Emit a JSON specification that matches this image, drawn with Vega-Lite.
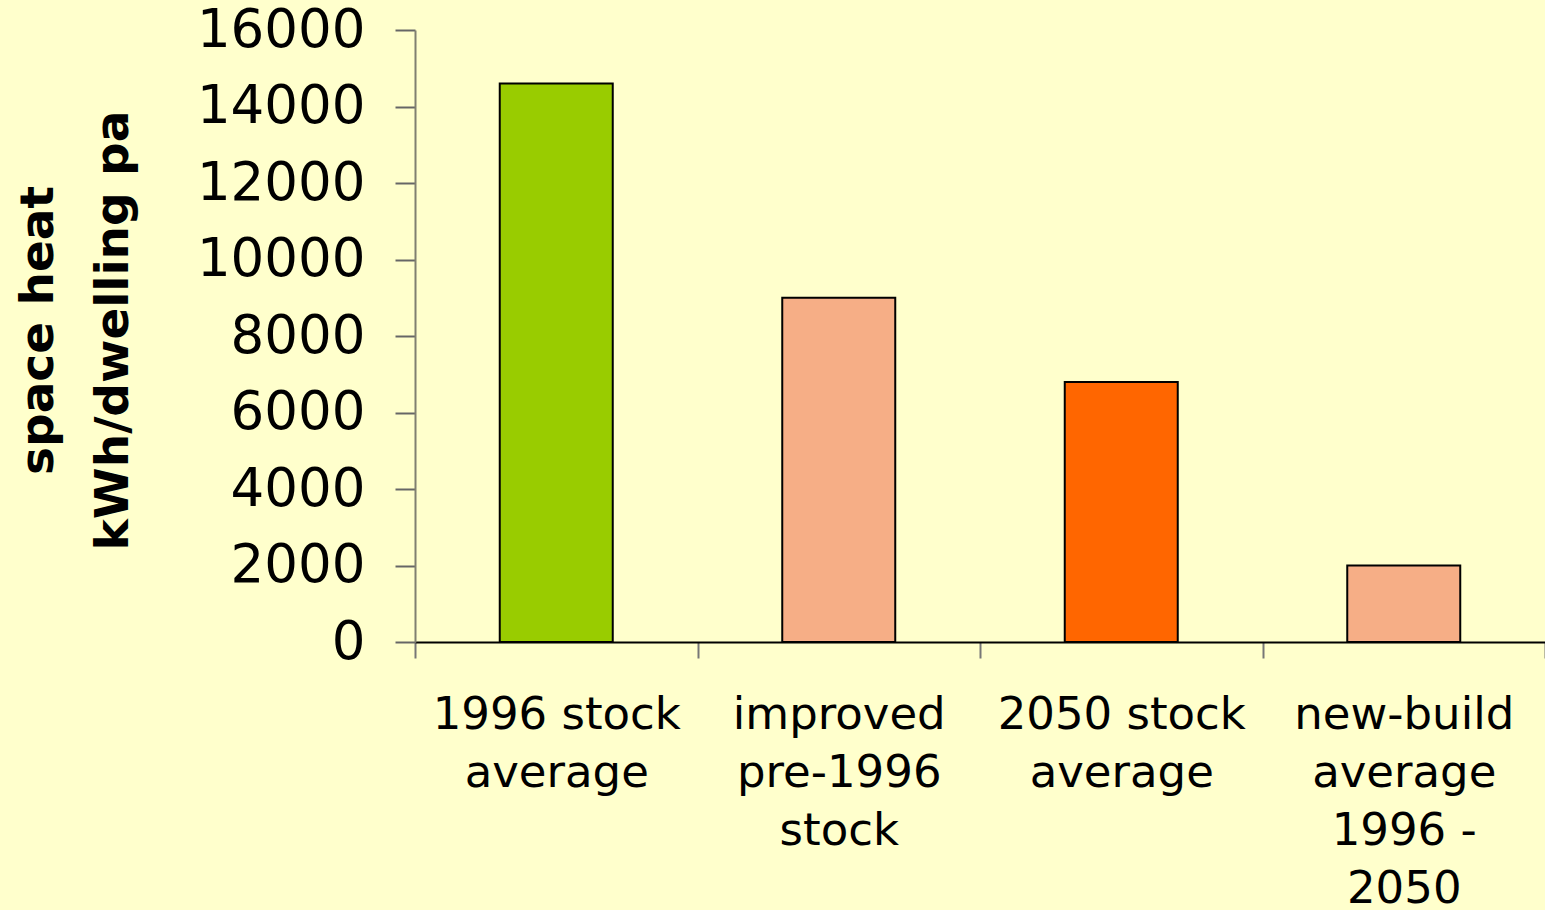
{
  "$schema": "https://vega.github.io/schema/vega-lite/v6.json",
  "width": 1130,
  "height": 612,
  "autosize": {"type": "none"},
  "padding": {"left": 415, "top": 30, "right": 0, "bottom": 268},
  "background": "#FFFFCC",
  "config": {"view": {"stroke": null}, "font": "DejaVu Sans"},
  "data": {
    "values": [
      {"category": "1996 stock|average", "value": 14600, "kind": "green"},
      {"category": "improved|pre-1996|stock", "value": 9000, "kind": "hatch"},
      {"category": "2050 stock|average", "value": 6800, "kind": "orange"},
      {"category": "new-build|average|1996 -|2050", "value": 2000, "kind": "hatch"}
    ]
  },
  "mark": {"type": "bar", "stroke": "#000000", "strokeWidth": 2, "width": {"band": 0.4}},
  "encoding": {
    "x": {
      "field": "category",
      "type": "nominal",
      "sort": null,
      "scale": {"paddingInner": 0, "paddingOuter": 0},
      "axis": {
        "title": null,
        "labelAngle": 0,
        "labelExpr": "split(datum.label, '|')",
        "labelFont": "DejaVu Sans",
        "labelFontSize": 45,
        "labelColor": "#000000",
        "labelLineHeight": 58,
        "labelPadding": 34,
        "labelBaseline": "top",
        "labelLimit": 0,
        "tickBand": "extent",
        "tickSize": 16,
        "tickColor": "#777777",
        "tickWidth": 2,
        "domainColor": "#000000",
        "domainWidth": 2
      }
    },
    "y": {
      "field": "value",
      "type": "quantitative",
      "scale": {"domain": [0, 16000], "nice": false},
      "axis": {
        "values": [0, 2000, 4000, 6000, 8000, 10000, 12000, 14000, 16000],
        "format": "d",
        "grid": false,
        "labelFont": "DejaVu Sans",
        "labelFontSize": 53,
        "labelColor": "#000000",
        "labelPadding": 30,
        "tickSize": 20,
        "tickColor": "#666666",
        "tickWidth": 2,
        "domainColor": "#808070",
        "domainWidth": 2,
        "title": ["space heat", "kWh/dwelling pa"],
        "titleFont": "DejaVu Sans",
        "titleFontSize": 47,
        "titleFontWeight": "bold",
        "titleColor": "#000000",
        "titleAngle": -90,
        "titleAlign": "center",
        "titleBaseline": "top",
        "titleLineHeight": 75,
        "titleX": -400,
        "titleY": 300
      }
    },
    "color": {
      "field": "kind",
      "type": "nominal",
      "scale": {"domain": ["green", "hatch", "orange"], "range": ["#99CC00", "#F6AE86", "#FF6600"]},
      "legend": null
    }
  }
}
